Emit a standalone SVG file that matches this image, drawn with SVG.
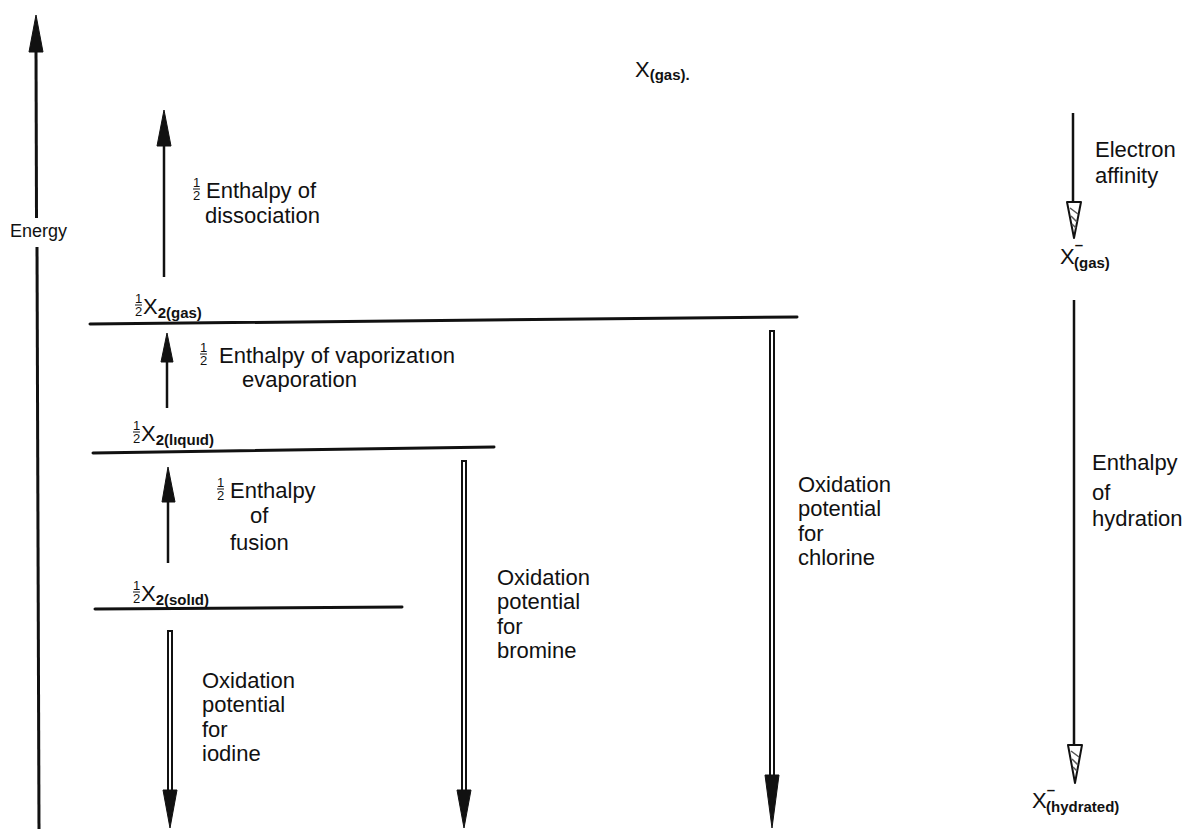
<svg xmlns="http://www.w3.org/2000/svg" width="1184" height="829" viewBox="0 0 1184 829">
<style>
text{font-family:"Liberation Sans",Arial,sans-serif;fill:#111}
.lbl{font-size:22px}
.sm{font-size:18px}
.fr{font-size:13px}
.sub{font-size:15px;font-weight:bold}
.big{font-size:22px}
.lvl{stroke:#111;stroke-width:3;fill:none;stroke-linecap:round}
.shaft{stroke:#111;stroke-width:2.5;fill:none}
.ax{stroke:#111;stroke-width:3;fill:none}
.dbl{stroke:#111;stroke-width:6;fill:none}
.dbli{stroke:#fff;stroke-width:2;fill:none}
.head{fill:#111;stroke:#111;stroke-width:1}
.hol{fill:#fff;stroke:#111;stroke-width:2;stroke-linejoin:round}
.hatch{stroke:#555;stroke-width:1.5;fill:none}
.bar{stroke:#111;stroke-width:1}
</style>
<rect width="1184" height="829" fill="#fff"/>

<g id="connectors">
  <!-- Energy axis -->
  <line class="ax" x1="36" y1="48" x2="36.5" y2="218"/>
  <line class="ax" x1="37" y1="247" x2="39" y2="829"/>
  <polygon class="head" points="36,15 29,52 43,52"/>
  <!-- dissociation -->
  <line class="shaft" x1="164" y1="140" x2="164" y2="277"/>
  <polygon class="head" points="164,110 157,146 171,146"/>
  <!-- vaporization -->
  <line class="shaft" x1="167" y1="358" x2="167" y2="408"/>
  <polygon class="head" points="167,333 161,362 173,362"/>
  <!-- fusion -->
  <line class="shaft" x1="168" y1="498" x2="168" y2="563"/>
  <polygon class="head" points="168,467 162,502 175,502"/>
  <!-- iodine -->
  <line class="dbl" x1="170" y1="630" x2="170" y2="792"/>
  <line class="dbli" x1="170" y1="632" x2="170" y2="790"/>
  <polygon class="head" points="163,790 177,790 170,828"/>
  <!-- bromine -->
  <line class="dbl" x1="464" y1="460" x2="464" y2="792"/>
  <line class="dbli" x1="464" y1="462" x2="464" y2="790"/>
  <polygon class="head" points="457,790 471,790 464,828"/>
  <!-- chlorine -->
  <line class="dbl" x1="772" y1="330" x2="772" y2="777"/>
  <line class="dbli" x1="772" y1="332" x2="772" y2="775"/>
  <polygon class="head" points="765,775 779,775 772,828"/>
  <!-- electron affinity -->
  <line class="shaft" x1="1073" y1="113" x2="1073" y2="203"/>
  <polygon class="hol" points="1067,202 1081,202 1074,238"/>
  <path class="hatch" d="M1070,208 L1078,214 M1071,216 L1077,222 M1072,224 L1076,228"/>
  <!-- hydration -->
  <line class="shaft" x1="1074" y1="300" x2="1074" y2="746"/>
  <polygon class="hol" points="1068,745 1082,745 1075,783"/>
  <path class="hatch" d="M1071,751 L1079,757 M1072,759 L1078,765 M1073,767 L1077,771"/>
</g>

<g id="energy-label">
  <text class="sm" x="10" y="237">Energy</text>
</g>

<g id="x-gas">
  <text class="big" x="635" y="77">X<tspan class="sub" dy="3">(gas)</tspan><tspan class="sub">.</tspan></text>
</g>

<g id="electron-affinity-label">
  <text class="lbl" x="1095" y="157">Electron</text>
  <text class="lbl" x="1095" y="183">affinity</text>
</g>

<g id="x-minus-gas">
  <text class="big" x="1060" y="264">X<tspan class="sub" dy="-14">–</tspan><tspan class="sub" dx="-9" dy="18">(gas)</tspan></text>
</g>

<g id="hydration-label">
  <text class="lbl" x="1092" y="470">Enthalpy</text>
  <text class="lbl" x="1092" y="500">of</text>
  <text class="lbl" x="1092" y="526">hydration</text>
</g>

<g id="x-minus-hydrated">
  <text class="big" x="1032" y="808">X<tspan class="sub" dy="-13">–</tspan><tspan class="sub" dx="-9" dy="17">(hydrated)</tspan></text>
</g>

<g id="dissociation-label">
  <text class="fr" x="193" y="187">1</text>
  <line class="bar" x1="193" y1="189" x2="200" y2="189"/>
  <text class="fr" x="193" y="200">2</text>
  <text class="lbl" x="206" y="198">Enthalpy of</text>
  <text class="lbl" x="205" y="223">dissociation</text>
</g>

<g id="level-gas">
  <text class="fr" x="135" y="303">1</text>
  <line class="bar" x1="135" y1="305" x2="142" y2="305"/>
  <text class="fr" x="135" y="316">2</text>
  <text class="lbl" x="143" y="314">X<tspan class="sub" dy="4">2(gas)</tspan></text>
  <line class="lvl" x1="90" y1="324" x2="797" y2="317"/>
</g>

<g id="vaporization-label">
  <text class="fr" x="200" y="352">1</text>
  <line class="bar" x1="200" y1="354" x2="207" y2="354"/>
  <text class="fr" x="200" y="365">2</text>
  <text class="lbl" x="219" y="363">Enthalpy of vaporizatıon</text>
  <text class="lbl" x="242" y="387">evaporation</text>
</g>

<g id="level-liquid">
  <text class="fr" x="133" y="430">1</text>
  <line class="bar" x1="133" y1="432" x2="140" y2="432"/>
  <text class="fr" x="133" y="443">2</text>
  <text class="lbl" x="141" y="441">X<tspan class="sub" dy="4">2(lıquıd)</tspan></text>
  <line class="lvl" x1="93" y1="453" x2="494" y2="447"/>
</g>

<g id="fusion-label">
  <text class="fr" x="217" y="487">1</text>
  <line class="bar" x1="217" y1="489" x2="224" y2="489"/>
  <text class="fr" x="217" y="500">2</text>
  <text class="lbl" x="230" y="498">Enthalpy</text>
  <text class="lbl" x="250" y="523">of</text>
  <text class="lbl" x="230" y="550">fusion</text>
</g>

<g id="level-solid">
  <text class="fr" x="133" y="590">1</text>
  <line class="bar" x1="133" y1="592" x2="140" y2="592"/>
  <text class="fr" x="133" y="603">2</text>
  <text class="lbl" x="141" y="601">X<tspan class="sub" dy="4">2(solıd)</tspan></text>
  <line class="lvl" x1="95" y1="609" x2="402" y2="607"/>
</g>

<g id="iodine-label">
  <text class="lbl" x="202" y="688">Oxidation</text>
  <text class="lbl" x="202" y="712">potential</text>
  <text class="lbl" x="202" y="737">for</text>
  <text class="lbl" x="202" y="761">iodine</text>
</g>

<g id="bromine-label">
  <text class="lbl" x="497" y="585">Oxidation</text>
  <text class="lbl" x="497" y="609">potential</text>
  <text class="lbl" x="497" y="634">for</text>
  <text class="lbl" x="497" y="658">bromine</text>
</g>

<g id="chlorine-label">
  <text class="lbl" x="798" y="492">Oxidation</text>
  <text class="lbl" x="798" y="516">potential</text>
  <text class="lbl" x="798" y="541">for</text>
  <text class="lbl" x="798" y="565">chlorine</text>
</g>
</svg>
